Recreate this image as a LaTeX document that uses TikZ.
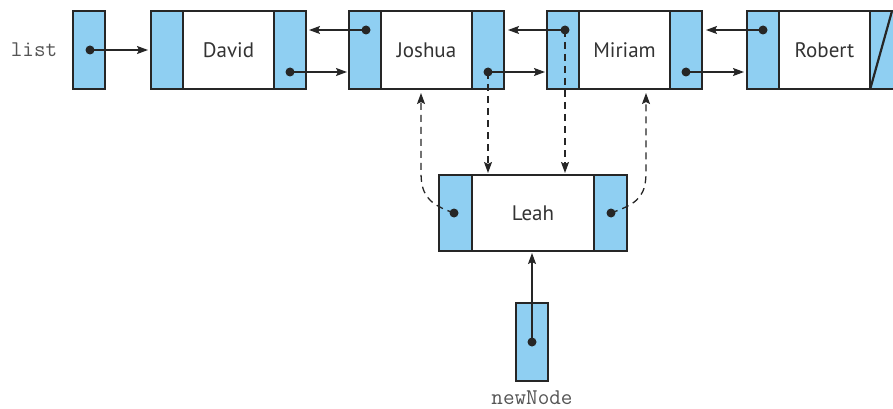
\documentclass[tikz,border=0pt]{standalone}
\usepackage{fontspec}
\setmainfont{PT Sans}
\usetikzlibrary{arrows.meta}
\definecolor{cellblue}{HTML}{8FCFF2}
\definecolor{edge}{HTML}{262626}
\definecolor{txt}{HTML}{333333}
\definecolor{codegray}{HTML}{555555}
\begin{document}
\begin{tikzpicture}[x=1pt,y=-1pt,
  cell/.style={draw=edge, line width=2.4pt, inner sep=0pt, minimum height=78},
  ptr/.style={cell, fill=cellblue, minimum width=32},
  data/.style={cell, fill=white, minimum width=91, text=txt, font=\fontsize{21}{23}\selectfont},
  dot/.style={circle, fill=edge, inner sep=0pt, minimum size=9},
  link/.style={-{Stealth[length=11pt,width=8pt,inset=2pt]}, line width=1.3pt, draw=edge},
  dlink/.style={link, dash pattern=on 7pt off 5pt},
  code/.style={text=codegray, font=\ttfamily\fontsize{22.5}{24}\selectfont, inner sep=0pt}
]
\useasboundingbox (0,0) rectangle (893,409);

% list pointer
\node[code] (listlbl) at (34,50) {list};
\node[ptr] (listbox) at (89,50) {};
\node[dot] (listdot) at (90,50) {};

% David
\node[ptr] (davL) at (167,50) {};
\node[data] (davD) at (228.5,50) {David};
\node[ptr] (davR) at (290,50) {};
\node[dot] (davRd) at (290,72) {};

% Joshua
\node[ptr] (josL) at (365,50) {};
\node[data] (josD) at (426.5,50) {Joshua};
\node[ptr] (josR) at (488,50) {};
\node[dot] (josLd) at (366,30) {};
\node[dot] (josRd) at (488,72) {};

% Miriam
\node[ptr] (mirL) at (563,50) {};
\node[data] (mirD) at (624.5,50) {Miriam};
\node[ptr] (mirR) at (686,50) {};
\node[dot] (mirLd) at (565,30) {};
\node[dot] (mirRd) at (686,72) {};

% Robert
\node[ptr] (robL) at (763,50) {};
\node[data] (robD) at (824.5,50) {Robert};
\node[ptr] (robR) at (886,50) {};
\node[dot] (robLd) at (763,30) {};
\draw[edge, line width=2.2pt] (870.5,88) -- (892,11);

% Leah
\node[ptr, minimum width=33, minimum height=76] (leaL) at (455.5,213) {};
\node[data, minimum width=122, minimum height=76] (leaD) at (533,213) {Leah};
\node[ptr, minimum width=33, minimum height=76] (leaR) at (610.5,213) {};
\node[dot] (leaLd) at (454,213) {};
\node[dot] (leaRd) at (611,213) {};

% newNode
\node[ptr] (newbox) at (532,342) {};
\node[dot] (newdot) at (532,342) {};
\node[code, anchor=base] (newlbl) at (532,404.5) {newNode};

% coordinates for arrow ends
\coordinate (t1) at (148,50);
\coordinate (t2) at (347,72);
\coordinate (t3) at (309,30);
\coordinate (t4) at (545,72);
\coordinate (t5) at (508,30);
\coordinate (t6) at (744,72);
\coordinate (t7) at (706,30);
\coordinate (t8) at (488,173);
\coordinate (t9) at (565,173);
\coordinate (t10) at (421,93);
\coordinate (t11) at (646,93);
\coordinate (t12) at (532,253);

% solid links
\draw[link] (listdot.center) -- (t1);
\draw[link] (davRd.center) -- (t2);
\draw[link] (josLd.center) -- (t3);
\draw[link] (josRd.center) -- (t4);
\draw[link] (mirLd.center) -- (t5);
\draw[link] (mirRd.center) -- (t6);
\draw[link] (robLd.center) -- (t7);
\draw[link] (newdot.center) -- (t12);

% dashed links
\draw[dlink] (josRd.center) -- (t8);
\draw[dlink] (mirLd.center) -- (t9);
\draw[dlink] (leaLd.center) -- (446,210) .. controls (428,202) and (421,194) .. (421,172) -- (t10);
\draw[dlink] (leaRd.center) -- (619,210) .. controls (639,202) and (646,194) .. (646,172) -- (t11);
\end{tikzpicture}
\end{document}
